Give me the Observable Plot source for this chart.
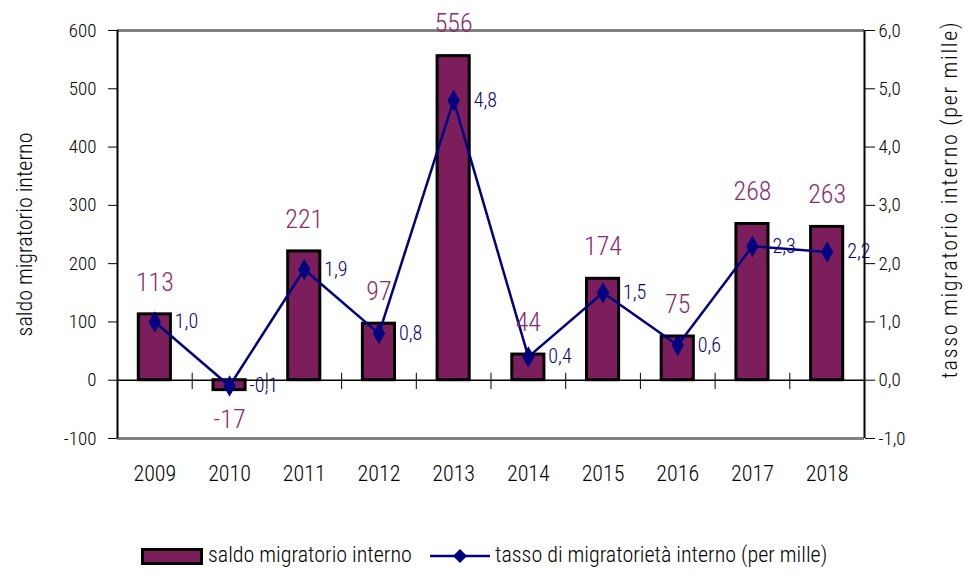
<!DOCTYPE html>
<html>
<head>
<meta charset="utf-8">
<script src="https://cdn.jsdelivr.net/npm/d3@7"></script>
<script src="https://cdn.jsdelivr.net/npm/@observablehq/plot@0.6"></script>
<style>
  body { margin: 0; background: #fff; }
  #wrap { position: relative; width: 964px; height: 571px; font-family: "Roboto Condensed", sans-serif; font-weight: 300; }
  #chart svg text { font-weight: 300; }
  #legend { position: absolute; left: 0; top: 530px; width: 964px; height: 41px; font-size: 22px; color: #000; }
  .lg { position: absolute; }
</style>
</head>
<body>
<div id="wrap">
  <div id="chart"></div>
  <div id="legend">
    <div class="lg" style="left:141px; top:18px; width:56px; height:11px; background:#7B1E5B; border:3px solid #000;"></div>
    <div class="lg" style="left:208px; top:12px; line-height:26px;">saldo migratorio interno</div>
    <svg class="lg" style="left:428px; top:16px;" width="64" height="20">
      <line x1="2" y1="10" x2="62" y2="10" stroke="#000080" stroke-width="2.5"></line>
      <path d="M32,3 L39,10 L32,17 L25,10 Z" fill="#000080"></path>
    </svg>
    <div class="lg" style="left:495px; top:12px; line-height:26px;">tasso di migratorietà interno (per mille)</div>
  </div>
</div>
<script>
const years = ["2009","2010","2011","2012","2013","2014","2015","2016","2017","2018"];
const saldo = [113, -17, 221, 97, 556, 44, 174, 75, 268, 263];
const tasso = [1.0, -0.1, 1.9, 0.8, 4.8, 0.4, 1.5, 0.6, 2.3, 2.2];
const leftTicks = [-100, 0, 100, 200, 300, 400, 500, 600];
const rightTicks = [-1, 0, 1, 2, 3, 4, 5, 6];
const leftTitle = "saldo migratorio interno";
const rightTitle = "tasso migratorio interno (per mille)";

const rows = years.map((y, i) => ({year: y, saldo: saldo[i], tasso: tasso[i]}));
const fmt = v => v.toFixed(1).replace(".", ",");

const W = 964, H = 530, mL = 117, mR = 100, mT = 30, mB = 92;
const step = (W - mL - mR) / years.length;
const font = '"Roboto Condensed", sans-serif';

const chart = Plot.plot({
  width: W, height: H,
  marginLeft: mL, marginRight: mR, marginTop: mT, marginBottom: mB,
  style: {fontFamily: font, fontSize: "19px", color: "#000", background: "#fff"},
  x: {type: "band", domain: years, paddingInner: 0.57, paddingOuter: 0.285, round: false, axis: null},
  y: {domain: [-100, 600], axis: null},
  marks: [
    Plot.ruleY([600, -100], {stroke: "#808080", strokeWidth: 3}),
    Plot.ruleX([years[0]], {x: d => d, dx: -step / 2, stroke: "#000", strokeWidth: 2}),
    Plot.ruleX([years[years.length - 1]], {x: d => d, dx: step / 2, stroke: "#000", strokeWidth: 2}),
    Plot.axisY(leftTicks, {anchor: "left", tickSize: 9, tickPadding: 12, fontSize: 19, label: null, tickFormat: d => String(d)}),
    Plot.axisY(rightTicks.map(d => d * 100), {anchor: "right", tickSize: 10, tickPadding: 4, fontSize: 19, label: null, tickFormat: d => fmt(d / 100)}),
    Plot.barY(rows, {x: "year", y: "saldo", fill: "#7B1E5B", stroke: "#000", strokeWidth: 3}),
    Plot.ruleY([0], {stroke: "#000", strokeWidth: 1.5}),
    Plot.ruleX(years.slice(1), {x: d => d, y1: 12, y2: -16, dx: -step / 2, stroke: "#000", strokeWidth: 1}),
    Plot.line(rows, {x: "year", y: d => d.tasso * 100, stroke: "#000080", strokeWidth: 2.5}),
    Plot.dot(rows, {x: "year", y: d => d.tasso * 100, symbol: "diamond", r: 6.5, fill: "#000080"}),
    Plot.text(rows.filter(d => d.saldo >= 0), {x: "year", y: "saldo", text: d => String(d.saldo), dy: -32, fontSize: 26, fill: "#8B2D6D"}),
    Plot.text(rows.filter(d => d.saldo < 0), {x: "year", y: "saldo", text: d => String(d.saldo), dy: 30, fontSize: 26, fill: "#8B2D6D"}),
    Plot.text(rows, {x: "year", y: d => d.tasso * 100, text: d => fmt(d.tasso), dx: 20, textAnchor: "start", fontSize: 20, fill: "#000080"}),
    Plot.text(years, {x: d => d, frameAnchor: "bottom", dy: 42, fontSize: 22}),
    Plot.text([leftTitle], {text: d => d, frameAnchor: "left", textAnchor: "middle", rotate: -90, dx: -93, fontSize: 22}),
    Plot.text([rightTitle], {text: d => d, frameAnchor: "right", textAnchor: "middle", rotate: -90, dx: 85, dy: -34, fontSize: 22})
  ]
});
d3.select(chart).selectAll("text").filter(function() { return this.textContent === rightTitle; })
  .attr("textLength", 356).attr("lengthAdjust", "spacing");
document.getElementById("chart").appendChild(chart);
</script>
</body>
</html>
